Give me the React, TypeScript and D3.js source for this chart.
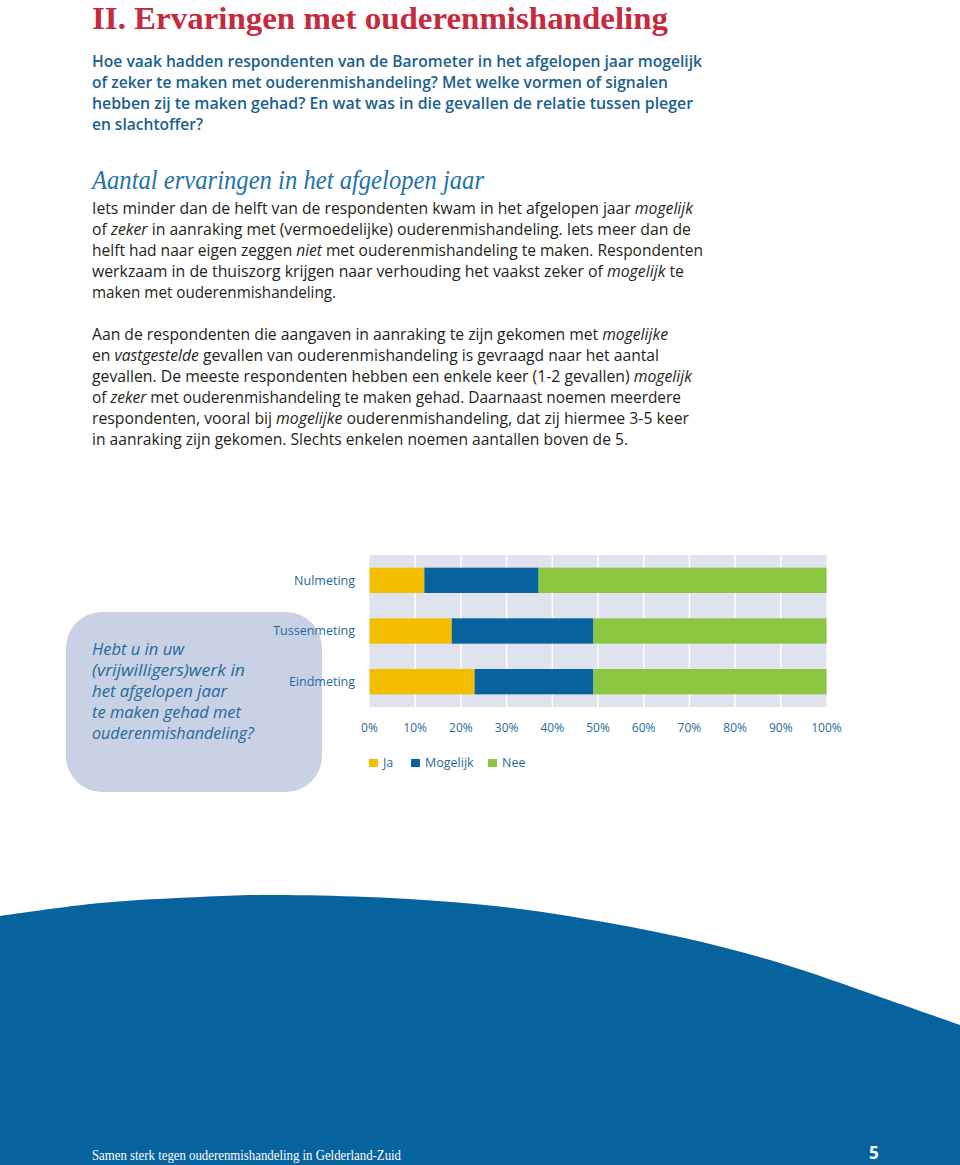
import React from "react";
import * as d3 from "d3";

// ---- data ----
const categories = ["Nulmeting", "Tussenmeting", "Eindmeting"];
const seriesNames = ["Ja", "Mogelijk", "Nee"];
const jaValues = [12, 18, 23];
const mogelijkValues = [25, 31, 26];
const neeValues = [63, 51, 51];
const tickValues = [0, 10, 20, 30, 40, 50, 60, 70, 80, 90, 100];
const tickLabels = tickValues.map((v) => `${v}%`);

const colors: Record<string, string> = {
  Ja: "#F4BE00",
  Mogelijk: "#07629E",
  Nee: "#8CC540",
};

type Seg = { t: string; i?: boolean };
type Line = { segs: Seg[]; w: number };

const introLines: Line[] = [
  { segs: [{ t: "Hoe vaak hadden respondenten van de Barometer in het afgelopen jaar mogelijk" }], w: 610 },
  { segs: [{ t: "of zeker te maken met ouderenmishandeling? Met welke vormen of signalen" }], w: 576 },
  { segs: [{ t: "hebben zij te maken gehad? En wat was in die gevallen de relatie tussen pleger" }], w: 601 },
  { segs: [{ t: "en slachtoffer?" }], w: 111 },
];

const para1: Line[] = [
  { segs: [{ t: "Iets minder dan de helft van de respondenten kwam in het afgelopen jaar " }, { t: "mogelijk", i: true }], w: 601 },
  { segs: [{ t: "of " }, { t: "zeker", i: true }, { t: " in aanraking met (vermoedelijke) ouderenmishandeling. Iets meer dan de" }], w: 599 },
  { segs: [{ t: "helft had naar eigen zeggen " }, { t: "niet", i: true }, { t: " met ouderenmishandeling te maken. Respondenten" }], w: 611 },
  { segs: [{ t: "werkzaam in de thuiszorg krijgen naar verhouding het vaakst zeker of " }, { t: "mogelijk", i: true }, { t: " te" }], w: 592 },
  { segs: [{ t: "maken met ouderenmishandeling." }], w: 244 },
];

const para2: Line[] = [
  { segs: [{ t: "Aan de respondenten die aangaven in aanraking te zijn gekomen met " }, { t: "mogelijke", i: true }], w: 576 },
  { segs: [{ t: "en " }, { t: "vastgestelde", i: true }, { t: " gevallen van ouderenmishandeling is gevraagd naar het aantal" }], w: 567 },
  { segs: [{ t: "gevallen. De meeste respondenten hebben een enkele keer (1-2 gevallen) " }, { t: "mogelijk", i: true }], w: 600 },
  { segs: [{ t: "of " }, { t: "zeker", i: true }, { t: " met ouderenmishandeling te maken gehad. Daarnaast noemen meerdere" }], w: 589 },
  { segs: [{ t: "respondenten, vooral bij " }, { t: "mogelijke", i: true }, { t: " ouderenmishandeling, dat zij hiermee 3-5 keer" }], w: 597 },
  { segs: [{ t: "in aanraking zijn gekomen. Slechts enkelen noemen aantallen boven de 5." }], w: 536 },
];

const boxLines: Line[] = [
  { segs: [{ t: "Hebt u in uw", i: true }], w: 92 },
  { segs: [{ t: "(vrijwilligers)werk in", i: true }], w: 153 },
  { segs: [{ t: "het afgelopen jaar", i: true }], w: 135 },
  { segs: [{ t: "te maken gehad met", i: true }], w: 149 },
  { segs: [{ t: "ouderenmishandeling?", i: true }], w: 162 },
];

// decorative page wave outline
const wavePts: [number, number][] = [
  [0, 916], [100, 903], [200, 897], [267, 895], [367, 897], [480, 904.5],
  [580, 918], [680, 937], [780, 963], [880, 997], [960, 1025],
];

const SANS = "'Open Sans', 'Noto Sans', sans-serif";
const SERIF = "'Liberation Serif', 'DejaVu Serif', serif";

let ctx: CanvasRenderingContext2D | null = null;
function measure(text: string, italic: boolean, weight: number, size: number): number {
  if (!ctx) {
    const c = document.createElement("canvas");
    ctx = c.getContext("2d");
  }
  if (!ctx) return text.length * size * 0.5;
  ctx.font = `${italic ? "italic " : ""}${weight} ${size}px 'Open Sans', 'Noto Sans', sans-serif`;
  return ctx.measureText(text).width;
}

function TextBlock({ lines, x, y0, lh, size, fill, weight }: { lines: Line[]; x: number; y0: number; lh: number; size: number; fill: string; weight?: number }) {
  const wt = weight || 400;
  return (
    <g>
      {lines.map((ln, k) => {
        const full = ln.segs.map((s) => measure(s.t, !!s.i, wt, size));
        const total = d3.sum(full);
        const f = ln.w / total;
        let cx = x;
        return (
          <g key={k}>
            {ln.segs.map((s, j) => {
              const lead = s.t.length - s.t.replace(/^\s+/, "").length;
              const trimmed = s.t.trim();
              const leadW = lead ? measure(s.t.slice(0, lead), !!s.i, wt, size) : 0;
              const tw = measure(trimmed, !!s.i, wt, size);
              const px = cx + leadW * f;
              cx += full[j] * f;
              return (
                <text key={j} x={px} y={y0 + k * lh} fontFamily={SANS} fontSize={size} fill={fill} fontWeight={wt} fontStyle={s.i ? "italic" : "normal"} textLength={tw * f} lengthAdjust="spacingAndGlyphs">
                  {trimmed}
                </text>
              );
            })}
          </g>
        );
      })}
    </g>
  );
}

export default function App() {
  const x = d3.scaleLinear().domain([0, 100]).range([369.5, 826.5]);
  const y = d3.scaleBand<string>().domain(categories).range([555, 707]).paddingInner(0.5).paddingOuter(0.25);

  const rows = categories.map((c, i) => ({ cat: c, Ja: jaValues[i], Mogelijk: mogelijkValues[i], Nee: neeValues[i] }));
  const stacked = d3.stack<any>().keys(seriesNames)(rows);

  const wavePath = d3.line().curve(d3.curveCatmullRom)(wavePts) + ` L960,1165 L0,1165 Z`;

  const labelColor = "#1F6A9C";
  const legendX = [369, 411, 488];

  return (
    <svg width={960} height={1165} style={{ position: "absolute", left: 0, top: 0, background: "#fff" }}>
      {/* title */}
      <text x={92} y={29} fontFamily={SERIF} fontWeight={700} fontSize={31} fill="#C62A3C" textLength={576} lengthAdjust="spacingAndGlyphs">
        II. Ervaringen met ouderenmishandeling
      </text>
      <TextBlock lines={introLines} x={92} y0={67} lh={21} size={16} fill="#1B5F90" weight={600} />
      <text x={92} y={189} fontFamily={SERIF} fontStyle="italic" fontSize={27} fill="#2473A8" textLength={392} lengthAdjust="spacingAndGlyphs">
        Aantal ervaringen in het afgelopen jaar
      </text>
      <TextBlock lines={para1} x={92} y0={214} lh={21} size={16} fill="#231F20" />
      <TextBlock lines={para2} x={92} y0={340} lh={21} size={16} fill="#231F20" />

      {/* callout box */}
      <rect x={66} y={612} width={256} height={180} rx={36} ry={36} fill="#C9D1E4" />
      <TextBlock lines={boxLines} x={92} y0={655} lh={21} size={16} fill="#1F6A9C" />

      {/* chart background */}
      <rect x={x(0)} y={555} width={x(100) - x(0)} height={152} fill="#DFE3EE" />
      {tickValues.slice(1, -1).map((t) => (
        <line key={t} x1={x(t)} x2={x(t)} y1={555} y2={707} stroke="#fff" strokeWidth={1.5} />
      ))}
      {stacked.map((s) => (
        <g key={s.key} fill={colors[s.key]}>
          {s.map((d: any, i: number) => (
            <rect key={i} x={x(d[0])} y={y(d.data.cat)!} width={x(d[1]) - x(d[0])} height={y.bandwidth()} />
          ))}
        </g>
      ))}
      {categories.map((c) => (
        <text key={c} x={355} y={y(c)! + y.bandwidth() / 2} dy="0.35em" textAnchor="end" fontFamily={SANS} fontSize={12.5} fill={labelColor}>
          {c}
        </text>
      ))}
      {tickValues.map((t, i) => (
        <text key={t} x={x(t)} y={728} dy="0.35em" textAnchor="middle" fontFamily={SANS} fontSize={12} fill={labelColor}>
          {tickLabels[i]}
        </text>
      ))}
      {seriesNames.map((s, i) => (
        <g key={s}>
          <rect x={legendX[i]} y={759} width={9} height={8} fill={colors[s]} />
          <text x={legendX[i] + 14} y={763} dy="0.35em" fontFamily={SANS} fontSize={12.5} fill={labelColor}>
            {s}
          </text>
        </g>
      ))}

      {/* bottom wave */}
      <path d={wavePath} fill="#07639E" />
      <text x={92} y={1160} fontFamily={SERIF} fontSize={14} fill="#fff" textLength={309} lengthAdjust="spacingAndGlyphs">
        Samen sterk tegen ouderenmishandeling in Gelderland-Zuid
      </text>
      <text x={869} y={1159} fontFamily={SANS} fontWeight={700} fontSize={17} fill="#fff">
        5
      </text>
    </svg>
  );
}
